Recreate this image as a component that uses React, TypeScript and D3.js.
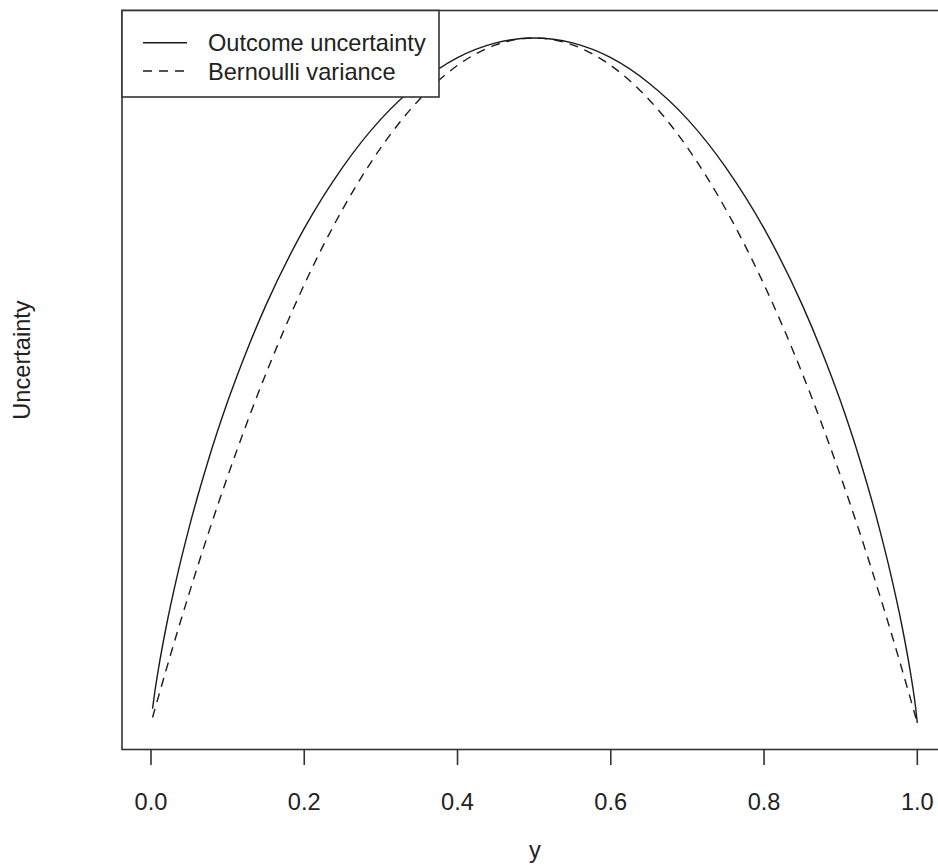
import React from "react";
import * as d3 from "d3";

// values (peak of both curves at 0.25)
const xValues = [
  0.002, 0.005, 0.01, 0.02, 0.035, 0.05, 0.075, 0.1, 0.125, 0.15, 0.2, 0.25, 0.3, 0.35, 0.4, 0.45,
  0.5,
  0.55, 0.6, 0.65, 0.7, 0.75, 0.8, 0.85, 0.875, 0.9, 0.925, 0.95, 0.965, 0.98, 0.99, 0.995, 0.998, 1.0,
];

const outcomeUncertainty = [
  0.0052, 0.0114, 0.0202, 0.0354, 0.0547, 0.0716, 0.0961, 0.1173, 0.1359, 0.1525, 0.1805, 0.2028,
  0.2204, 0.2335, 0.2428, 0.2482,
  0.25,
  0.2482, 0.2428, 0.2335, 0.2204, 0.2028, 0.1805, 0.1525, 0.1359, 0.1173, 0.0961, 0.0716, 0.0547,
  0.0354, 0.0202, 0.0114, 0.0052, 0.0,
];

const bernoulliVariance = [
  0.002, 0.005, 0.0099, 0.0196, 0.0338, 0.0475, 0.0694, 0.09, 0.1094, 0.1275, 0.16, 0.1875, 0.21,
  0.2275, 0.24, 0.2475,
  0.25,
  0.2475, 0.24, 0.2275, 0.21, 0.1875, 0.16, 0.1275, 0.1094, 0.09, 0.0694, 0.0475, 0.0338, 0.0196,
  0.0099, 0.005, 0.002, 0.0,
];

const xTicks = [0, 0.2, 0.4, 0.6, 0.8, 1.0];

const legendItems = [
  { label: "Outcome uncertainty", dash: null },
  { label: "Bernoulli variance", dash: "9 7" },
];

const W = 938;
const H = 865;
const FONT = "'Liberation Sans', Arial, Helvetica, sans-serif";
const FS = 23.6;

export default function App() {
  const box = { left: 122, right: 948, top: 10.5, bottom: 749.5 };

  const x = d3.scaleLinear().domain([0, 1]).range([151, 917.3]);
  const y = d3.scaleLinear().domain([0, 0.25]).range([723, 38]);

  const line = d3
    .line<number>()
    .x((_, i) => x(xValues[i]))
    .y((d) => y(d))
    .curve(d3.curveMonotoneX);

  const ink = "#1a1a1a";

  return (
    <svg
      width={W}
      height={H}
      style={{ position: "absolute", left: 0, top: 0, background: "#fff" }}
      fontFamily={FONT}
    >
      <rect x={0} y={0} width={W} height={H} fill="#fff" />

      {/* curves */}
      <path d={line(outcomeUncertainty) || ""} fill="none" stroke={ink} strokeWidth={1.4} />
      <path
        d={line(bernoulliVariance) || ""}
        fill="none"
        stroke={ink}
        strokeWidth={1.4}
        strokeDasharray="9 7"
      />

      {/* plot frame */}
      <rect
        x={box.left}
        y={box.top}
        width={box.right - box.left}
        height={box.bottom - box.top}
        fill="none"
        stroke="#333"
        strokeWidth={1.6}
      />

      {/* x axis ticks */}
      {xTicks.map((t) => (
        <g key={t}>
          <line x1={x(t)} x2={x(t)} y1={box.bottom} y2={765} stroke="#333" strokeWidth={1.6} />
          <text x={x(t)} y={810} textAnchor="middle" fontSize={FS} fill="#222">
            {d3.format(".1f")(t)}
          </text>
        </g>
      ))}

      {/* axis titles */}
      <text x={(box.left + box.right) / 2} y={858} textAnchor="middle" fontSize={FS} fill="#222">
        y
      </text>
      <text
        transform={`translate(30, 360) rotate(-90)`}
        textAnchor="middle"
        fontSize={FS}
        fill="#222"
      >
        Uncertainty
      </text>

      {/* legend */}
      <rect x={box.left} y={box.top} width={439 - box.left} height={97 - box.top} fill="#fff" stroke="#333" strokeWidth={1.6} />
      {legendItems.map((d, i) => {
        const ly = 42.7 + i * 28.3;
        return (
          <g key={d.label}>
            <line
              x1={143}
              x2={187}
              y1={ly}
              y2={ly}
              stroke={ink}
              strokeWidth={1.4}
              strokeDasharray={d.dash || undefined}
            />
            <text x={208} y={ly + 8.5} fontSize={FS} fill="#222">
              {d.label}
            </text>
          </g>
        );
      })}
    </svg>
  );
}
